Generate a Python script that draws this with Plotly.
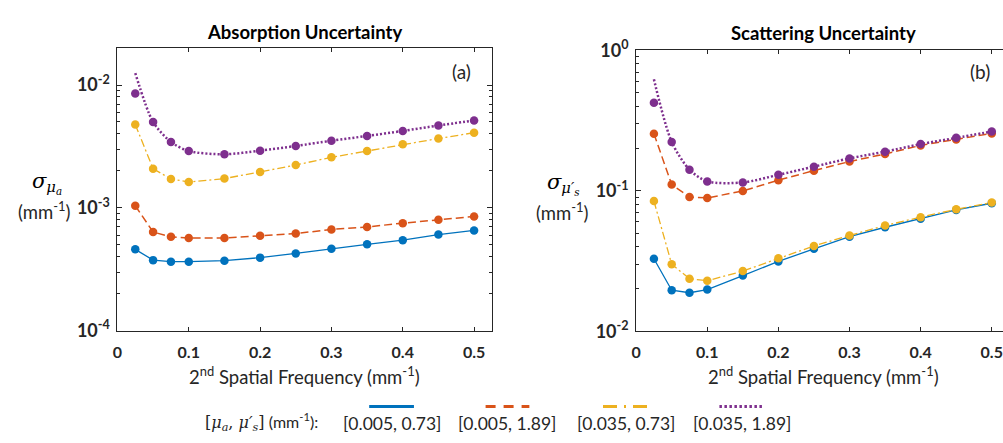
import plotly.graph_objects as go

# Spatial frequencies (mm^-1)
freq = [0.025, 0.05, 0.075, 0.1, 0.15, 0.2, 0.25, 0.3, 0.35, 0.4, 0.45, 0.5]

# Absorption uncertainty sigma_mu_a (mm^-1) for each [mu_a, mu_s'] pair
abs_a = [0.000459, 0.000375, 0.000364, 0.000364, 0.000371, 0.000393,
         0.000425, 0.000464, 0.000504, 0.000545, 0.000605, 0.000655]
abs_b = [0.00104, 0.000635, 0.000581, 0.000568, 0.000568, 0.000591,
         0.000617, 0.000667, 0.000699, 0.00075, 0.0008, 0.00085]
abs_c = [0.00477, 0.00208, 0.00172, 0.00162, 0.00173, 0.00196,
         0.00223, 0.00258, 0.0029, 0.0033, 0.00367, 0.00409]
abs_d = [0.00852, 0.0050, 0.00344, 0.0029, 0.00273, 0.00292,
         0.00319, 0.00352, 0.00385, 0.00423, 0.00468, 0.00515]
abs_d_model = [0.01253, 0.0050, 0.00344, 0.0029, 0.00273, 0.00292,
               0.00319, 0.00352, 0.00385, 0.00423, 0.00468, 0.00515]

# Scattering uncertainty sigma_mu_s' (mm^-1)
sca_a = [0.0328, 0.0196, 0.0188, 0.0198, 0.0249, 0.0314,
         0.0386, 0.0471, 0.0550, 0.0633, 0.0731, 0.0815]
sca_b = [0.2547, 0.1106, 0.0904, 0.0889, 0.0997, 0.119,
         0.139, 0.1614, 0.1828, 0.2104, 0.232, 0.256]
sca_c = [0.0845, 0.030, 0.02366, 0.0229, 0.0268, 0.0331,
         0.0405, 0.0481, 0.0565, 0.0649, 0.0738, 0.0824]
sca_d = [0.423, 0.2226, 0.1413, 0.1165, 0.1146, 0.1298,
         0.1485, 0.170, 0.1898, 0.2148, 0.238, 0.264]
sca_d_model = [0.621, 0.2226, 0.1413, 0.1165, 0.1146, 0.1298,
               0.1485, 0.170, 0.1898, 0.2148, 0.238, 0.264]

case_labels = ["[0.005, 0.73]", "[0.005, 1.89]", "[0.035, 0.73]", "[0.035, 1.89]"]
colors = ["#0072BD", "#D95319", "#EDB120", "#7E2F8E"]
dashes = ["solid", "8px,4px", "8px,3px,2px,3px", "2px,2px"]
widths = [1.3, 1.5, 1.3, 2.5]
x_ticks = [0, 0.1, 0.2, 0.3, 0.4, 0.5]

W, H = 1003, 443
AXC = "#262626"
SANS = "Lato"
MATH = "DejaVu Serif"


def px(x):
    return x / W


def py(y):
    return 1 - y / H


fig = go.Figure()

panels = [
    ("x", "y", [abs_a, abs_b, abs_c, abs_d], [abs_a, abs_b, abs_c, abs_d_model]),
    ("x2", "y2", [sca_a, sca_b, sca_c, sca_d], [sca_a, sca_b, sca_c, sca_d_model]),
]
for xa, ya, pts, curves in panels:
    for i in range(4):
        fig.add_trace(go.Scatter(
            x=freq, y=curves[i], mode="lines", xaxis=xa, yaxis=ya,
            line=dict(color=colors[i], width=widths[i], dash=dashes[i],
                      shape="spline" if i == 3 else "linear", smoothing=0.8),
            showlegend=False, hoverinfo="skip"))
        fig.add_trace(go.Scatter(
            x=freq, y=pts[i], mode="markers", xaxis=xa, yaxis=ya,
            marker=dict(color=colors[i], size=8.5),
            name=case_labels[i], showlegend=False))


def minor_vals(lo, hi):
    vals = []
    for e in range(lo, hi):
        vals += [k * 10 ** e for k in range(2, 10)]
    return vals


xcommon = dict(range=[0, 0.5245], tickvals=x_ticks,
               ticktext=["0", "0.1", "0.2", "0.3", "0.4", "0.5"],
               ticks="inside", ticklen=4, tickcolor=AXC, tickwidth=1,
               ticklabelstandoff=7,
               showline=True, linecolor=AXC, linewidth=1, showgrid=False,
               zeroline=False, tickfont=dict(family=SANS, size=16, color=AXC, weight="bold"))

ycommon = dict(type="log", ticks="inside", ticklen=5, tickcolor=AXC,
               showline=True, linecolor=AXC, linewidth=1, showgrid=False,
               ticklabelstandoff=3,
               tickfont=dict(family=SANS, size=18, color=AXC, weight="bold"))

fig.update_layout(
    width=W, height=H, autosize=False,
    margin=dict(l=0, r=0, t=0, b=0),
    paper_bgcolor="white", plot_bgcolor="white",
    xaxis=dict(xcommon, domain=[px(113), px(489)], anchor="y", mirror="ticks"),
    yaxis=dict(ycommon, range=[-4, -1.699], domain=[py(335), py(37)], anchor="x",
               tickvals=[1e-4, 1e-3, 1e-2],
               ticktext=["10<sup>-4</sup>", "10<sup>-3</sup>", "10<sup>-2</sup>"],
               mirror="ticks",
               minor=dict(tickvals=minor_vals(-4, -1), ticks="inside", ticklen=3,
                          tickcolor=AXC, showgrid=False)),
    xaxis2=dict(xcommon, range=[0, 0.5158], domain=[px(634.3), 1.0], anchor="y2",
                mirror="ticks"),
    yaxis2=dict(ycommon, range=[-2, 0], domain=[py(335.7), py(39.3)], anchor="x2",
                tickvals=[1e-2, 1e-1, 1e0],
                ticktext=["10<sup>-2</sup>", "10<sup>-1</sup>", "10<sup>0</sup>"],
                mirror=False,
                minor=dict(tickvals=minor_vals(-2, 0), ticks="inside", ticklen=3,
                           tickcolor=AXC, showgrid=False)),
)


def note(text, x, y, size=16, family=SANS, bold=False, xanchor="center", color="#000000"):
    fig.add_annotation(text=text, x=px(x), y=py(y), xref="paper", yref="paper",
                       xanchor=xanchor, yanchor="middle", showarrow=False,
                       font=dict(family=family, size=size, color=color,
                                 weight="bold" if bold else "normal"))


def mspan(s):
    return f'<span style="font-family:{MATH}">{s}</span>'


# Titles
note("Absorption Uncertainty", 301, 20, size=18.5, bold=True)
note("Scattering Uncertainty", 823, 21, size=18.5, bold=True)

# Panel tags
note("(a)", 459, 62, size=19, color=AXC)
note("(b)", 980, 62, size=19, color=AXC)

# X axis titles
xt = "2<sup>nd</sup> Spatial Frequency (mm<sup>-1</sup>)"
note(xt, 301, 382, size=18.5, color=AXC)
note(xt, 823, 382, size=18.5, color=AXC)

# Y axis titles
note(mspan("<i>σ</i><sub><i>μ<sub>a</sub></i></sub>"), 42, 179, size=21)
note("(mm<sup>-1</sup>)", 40, 208, size=18.5, color=AXC)
note(mspan("<i>σ</i><sub><i>μ′<sub>s</sub></i></sub>"), 561, 180, size=21)
note("(mm<sup>-1</sup>)", 560, 209, size=18.5, color=AXC)

# Legend row
note(mspan("[<i>μ<sub>a</sub></i>, <i>μ′<sub>s</sub></i>]") + " (mm<sup>-1</sup>):",
     317, 431, size=16, xanchor="right", color=AXC)
leg_x = [(366, 411), (483, 527), (601, 647), (718, 763)]
leg_dash = ["solid", "10px,8px", "14px,7px,2px,7px", "2.5px,2.5px"]
for i in range(4):
    x0, x1 = leg_x[i]
    fig.add_shape(type="line", xref="paper", yref="paper",
                  x0=px(x0), x1=px(x1), y0=py(415), y1=py(415),
                  line=dict(color=colors[i], width=3, dash=leg_dash[i]))
    note(case_labels[i], (x0 + x1) / 2, 433, size=17.5, color=AXC)

fig.write_html("out.html")
